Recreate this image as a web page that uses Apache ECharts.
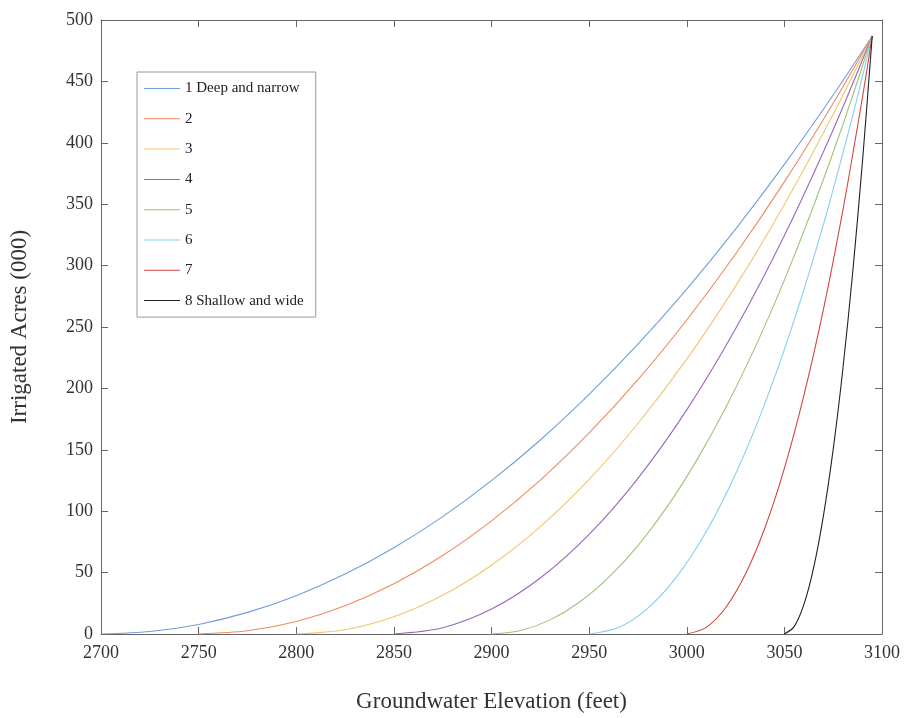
<!DOCTYPE html>
<html>
<head>
<meta charset="utf-8">
<script src="https://cdn.jsdelivr.net/npm/echarts@6/dist/echarts.min.js"></script>
<style>html,body{margin:0;padding:0;background:#fff}#c{width:905px;height:718px}</style>
</head>
<body>
<div id="c"></div>
<script>
// ---- data ----
const seriesNames = ['1 Deep and narrow', '2', '3', '4', '5', '6', '7', '8 Shallow and wide'];
const xTicks = [2700, 2750, 2800, 2850, 2900, 2950, 3000, 3050, 3100];
const yTicks = [0, 50, 100, 150, 200, 250, 300, 350, 400, 450, 500];

const x1 = [2700, 2725, 2750, 2775, 2800, 2825, 2850, 2875, 2900, 2925, 2950, 2975, 3000, 3025, 3050, 3075, 3095];
const y1 = [0, 2.0, 7.8, 17.6, 31.2, 48.8, 70.2, 95.6, 124.9, 158.0, 195.1, 236.0, 280.9, 329.7, 382.4, 438.9, 487];

const x2 = [2750, 2775, 2800, 2825, 2850, 2875, 2900, 2925, 2950, 2975, 3000, 3025, 3050, 3075, 3095];
const y2 = [0, 2.6, 10.2, 23.0, 40.9, 63.9, 92.1, 125.3, 163.7, 207.1, 255.7, 309.4, 368.2, 432.2, 487];

const x3 = [2800, 2825, 2850, 2875, 2900, 2925, 2950, 2975, 3000, 3025, 3050, 3075, 3095];
const y3 = [0, 3.5, 14.0, 31.5, 56.0, 87.4, 125.9, 171.4, 223.8, 283.3, 349.8, 423.2, 487];

const x4 = [2850, 2875, 2900, 2925, 2950, 2975, 3000, 3025, 3050, 3075, 3095];
const y4 = [0, 5.1, 20.3, 45.6, 81.1, 126.8, 182.5, 248.5, 324.5, 410.7, 487];

const x5 = [2900, 2915, 2930, 2945, 2960, 2975, 2990, 3005, 3020, 3035, 3050, 3065, 3080, 3095];
const y5 = [0, 2.9, 11.5, 25.9, 46.1, 72.0, 103.7, 141.2, 184.4, 233.4, 288.2, 348.7, 414.9, 487];

const x6 = [2950, 2965, 2980, 2995, 3010, 3025, 3040, 3055, 3070, 3085, 3095];
const y6 = [0, 5.2, 20.9, 46.9, 83.4, 130.3, 187.6, 255.4, 333.5, 422.1, 487];

const x7 = [3000, 3010, 3020, 3030, 3040, 3050, 3060, 3070, 3080, 3090, 3095];
const y7 = [0, 5.4, 21.6, 48.6, 86.3, 134.9, 194.3, 264.4, 345.4, 437.1, 487];

const x8 = [3050, 3055, 3060, 3065, 3070, 3075, 3080, 3085, 3090, 3095];
const y8 = [0, 6.0, 24.1, 54.1, 96.2, 150.3, 216.4, 294.6, 384.8, 487];

const colors = ['#6f9fdc', '#ef8a5e', '#f2c56e', '#9a67b8', '#9fc477', '#86cff2', '#d2463f', '#222222'];

// ---- chart ----
const xsAll = [x1, x2, x3, x4, x5, x6, x7, x8];
const ysAll = [y1, y2, y3, y4, y5, y6, y7, y8];
const font = 'Liberation Serif';
const axisColor = '#666';
const textColor = '#333';

const series = seriesNames.map((name, i) => ({
  name: name,
  type: 'line',
  data: xsAll[i].map((x, j) => [x, ysAll[i][j]]),
  smooth: 0.3,
  showSymbol: false,
  symbol: 'none',
  lineStyle: { width: 1.1, color: colors[i] },
  itemStyle: { color: colors[i] },
  xAxisIndex: 0, yAxisIndex: 0,
  z: 2
}));

const chart = echarts.init(document.getElementById('c'), null, { renderer: 'canvas' });
const baseX = {
  type: 'value', min: 2700, max: 3100, interval: 50,
  axisLine: { show: true, onZero: false, lineStyle: { color: axisColor, width: 1 } },
  axisTick: { show: true, inside: true, length: 7, lineStyle: { color: axisColor } },
  splitLine: { show: false }
};
const baseY = {
  type: 'value', min: 0, max: 500, interval: 50,
  axisLine: { show: true, onZero: false, lineStyle: { color: axisColor, width: 1 } },
  axisTick: { show: true, inside: true, length: 7, lineStyle: { color: axisColor } },
  splitLine: { show: false }
};
chart.setOption({
  animation: false,
  backgroundColor: '#fff',
  color: colors,
  grid: { left: 99, right: 23, top: 20, bottom: 77, containLabel: false },
  legend: {
    data: seriesNames,
    orient: 'vertical',
    left: 137, top: 72,
    icon: 'path://M0,0L36,0L36,1L0,1Z',
    itemWidth: 36, itemHeight: 14, itemGap: 15.3,
    padding: [9, 12, 9, 7],
    backgroundColor: '#fff',
    borderColor: '#999', borderWidth: 1,
    textStyle: { fontFamily: font, fontSize: 15, color: '#222' }
  },
  xAxis: [
    Object.assign({}, baseX, {
      position: 'bottom',
      name: 'Groundwater Elevation (feet)', nameLocation: 'middle', nameGap: 56,
      nameTextStyle: { fontFamily: font, fontSize: 23, color: textColor },
      axisLabel: { fontFamily: font, fontSize: 18, color: textColor, margin: 10,
        formatter: v => xTicks.includes(v) ? String(v) : '' }
    }),
    Object.assign({}, baseX, { position: 'top', axisLabel: { show: false } })
  ],
  yAxis: [
    Object.assign({}, baseY, {
      position: 'left',
      name: 'Irrigated Acres (000)', nameLocation: 'middle', nameGap: 70,
      nameTextStyle: { fontFamily: font, fontSize: 23, color: textColor },
      axisLabel: { fontFamily: font, fontSize: 18, color: textColor, margin: 8,
        formatter: v => yTicks.includes(v) ? String(v) : '' }
    }),
    Object.assign({}, baseY, { position: 'right', axisLabel: { show: false } })
  ],
  series: series
});
</script>
</body>
</html>
